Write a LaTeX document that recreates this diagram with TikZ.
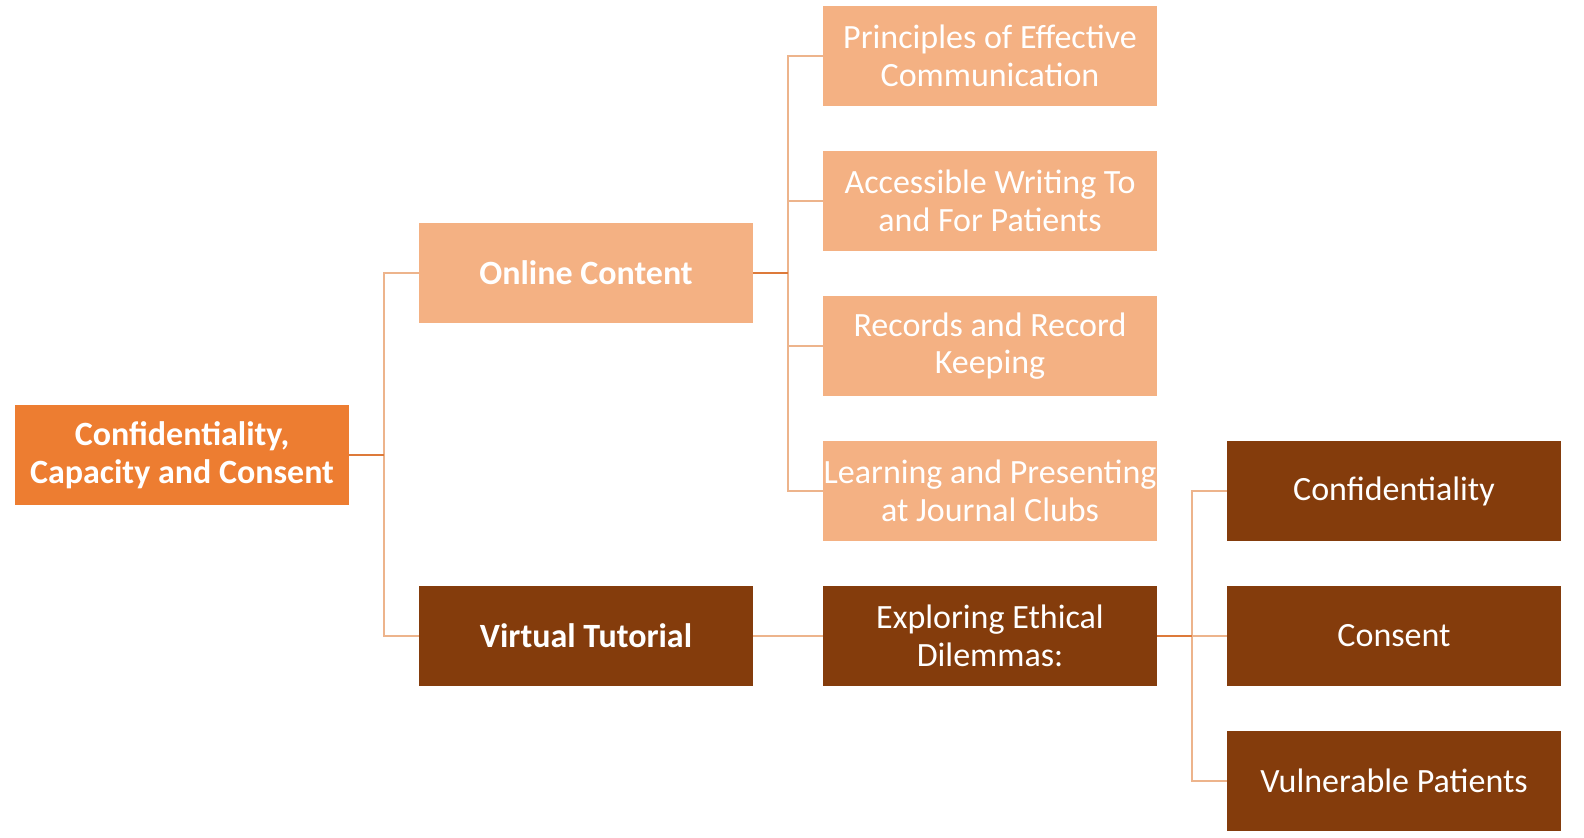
\documentclass[tikz,border=0pt]{standalone}
\usepackage{fontspec}
\setmainfont{Carlito}
\usetikzlibrary{positioning}
\definecolor{rootorange}{HTML}{ED7D31}
\definecolor{lightorange}{HTML}{F4B183}
\definecolor{darkbrown}{HTML}{843C0C}
\definecolor{trunkline}{HTML}{EDB48C}
\definecolor{stubline}{HTML}{DD7A3A}

\begin{document}
\begin{tikzpicture}[x=0.5pt,y=-0.5pt,
  box/.style={rectangle,minimum width=167pt,minimum height=50pt,
    inner sep=0pt,align=center,text=white,font=\fontsize{17}{18.8}\selectfont},
  rootbox/.style={box,fill=rootorange,font=\fontsize{17}{18.8}\selectfont\bfseries},
  onbox/.style={box,fill=lightorange},
  tutbox/.style={box,fill=darkbrown},
  trunk/.style={draw=trunkline,line width=1pt},
  stub/.style={draw=stubline,line width=1.2pt}]
\useasboundingbox (0,0) rectangle (1584,838);
% level 0
\node[rootbox] (root) at (182,455) {Confidentiality,\\Capacity and Consent};
% level 1
\node[onbox,font=\fontsize{17}{18.8}\selectfont\bfseries] (online) at (586,273) {Online Content};
\node[tutbox,font=\fontsize{17}{18.8}\selectfont\bfseries] (virtual) at (586,636) {Virtual Tutorial};
% level 2
\node[onbox] (principles) at (990,56) {Principles of Effective\\Communication};
\node[onbox] (writing) at (990,201) {Accessible Writing To\\and For Patients};
\node[onbox] (records) at (990,346) {Records and Record\\Keeping};
\node[onbox] (journal) at (990,491) {Learning and Presenting\\at Journal Clubs};
\node[tutbox] (dilemmas) at (990,636) {Exploring Ethical\\Dilemmas:};
% level 3
\node[tutbox] (confid) at (1394,491) {Confidentiality};
\node[tutbox] (consent) at (1394,636) {Consent};
\node[tutbox] (vulnerable) at (1394,781) {Vulnerable Patients};
% connectors
\draw[trunk] (root.east) -- ++(35,0) coordinate (r1) |- (online.west);
\draw[trunk] (r1) |- (virtual.west);
\draw[stub] (root.east) -- (r1);
\foreach \n in {principles,writing,records,journal}
  \draw[trunk] (online.east) -- ++(35,0) |- (\n.west);
\draw[stub] (online.east) -- ++(35,0);
\draw[trunk] (virtual.east) -- (dilemmas.west);
\foreach \n in {confid,consent,vulnerable}
  \draw[trunk] (dilemmas.east) -- ++(35,0) |- (\n.west);
\draw[stub] (dilemmas.east) -- ++(35,0);
\end{tikzpicture}
\end{document}
